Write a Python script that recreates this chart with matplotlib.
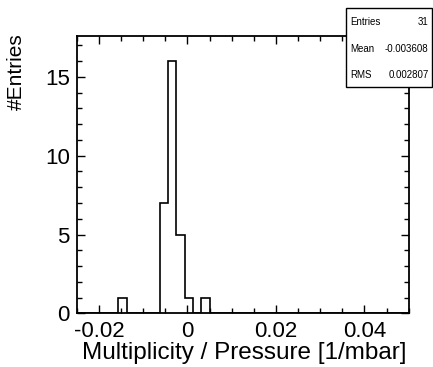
import numpy as np
import matplotlib
matplotlib.use("Agg")
import matplotlib.pyplot as plt
from matplotlib.ticker import MultipleLocator, FixedLocator
from matplotlib.patches import Rectangle

# ---- data ----
x_min, x_max, n_bins = -0.025, 0.05, 40
counts = [0, 0, 0, 0, 0, 1, 0, 0, 0, 0,
          7, 16, 5, 1, 0, 1, 0, 0, 0, 0,
          0, 0, 0, 0, 0, 0, 0, 0, 0, 0,
          0, 0, 0, 0, 0, 0, 0, 0, 0, 0]
x_ticks = [-0.02, 0, 0.02, 0.04]
x_tick_labels = ["-0.02", "0", "0.02", "0.04"]
y_ticks = [0, 5, 10, 15]
y_tick_labels = ["0", "5", "10", "15"]
stats_names = ["Entries", "Mean", "RMS"]
stats_values = ["31", "-0.003608", "0.002807"]
x_title = "Multiplicity / Pressure [1/mbar]"
y_title = "#Entries"

plt.rcParams['font.family'] = ['Liberation Sans', 'DejaVu Sans']

W, H = 433, 367
fig = plt.figure(figsize=(W / 100, H / 100), dpi=100)
left, right, top, bottom = 76.7, 408.7, 36.0, 313.3
ax = fig.add_axes([left / W, 1 - bottom / H, (right - left) / W, (bottom - top) / H])

edges = np.linspace(x_min, x_max, n_bins + 1)
ax.stairs(counts, edges, color='black', linewidth=1.2)

ax.set_xlim(x_min, x_max)
ax.set_ylim(0, max(counts) * 1.1)

ax.xaxis.set_major_locator(FixedLocator(x_ticks))
ax.set_xticklabels(x_tick_labels)
ax.xaxis.set_minor_locator(MultipleLocator(0.005))
ax.yaxis.set_major_locator(FixedLocator(y_ticks))
ax.set_yticklabels(y_tick_labels)
ax.yaxis.set_minor_locator(MultipleLocator(1))

ax.tick_params(which='both', direction='in', top=True, right=True, width=1.0, color='black')
ax.tick_params(which='major', length=6, labelsize=16)
ax.tick_params(axis='x', which='major', pad=5.5)
ax.tick_params(axis='y', which='major', pad=5)
ax.tick_params(which='minor', length=3.3)
for s in ax.spines.values():
    s.set_linewidth(1.3)

fig.text(406 / W, 1 - 353 / H, x_title, ha='right', va='center', fontsize=17.5)
fig.text(16 / W, 1 - 33 / H, y_title, ha='center', va='top', rotation=90, fontsize=15)

# stats box
bx0, by0, bx1, by1 = 345.7, 8.0, 432.0, 87.3
fig.patches.append(Rectangle((bx0 / W, 1 - by1 / H), (bx1 - bx0) / W, (by1 - by0) / H,
                             transform=fig.transFigure, facecolor='white',
                             edgecolor='black', linewidth=1.0, zorder=5))
row_y = [22.0, 49.0, 75.5]
for name, val, yy in zip(stats_names, stats_values, row_y):
    fig.text(350 / W, 1 - yy / H, name, ha='left', va='center', fontsize=7, zorder=6)
    fig.text(428.5 / W, 1 - yy / H, val, ha='right', va='center', fontsize=7, zorder=6)

fig.savefig("out.png", dpi=100)
